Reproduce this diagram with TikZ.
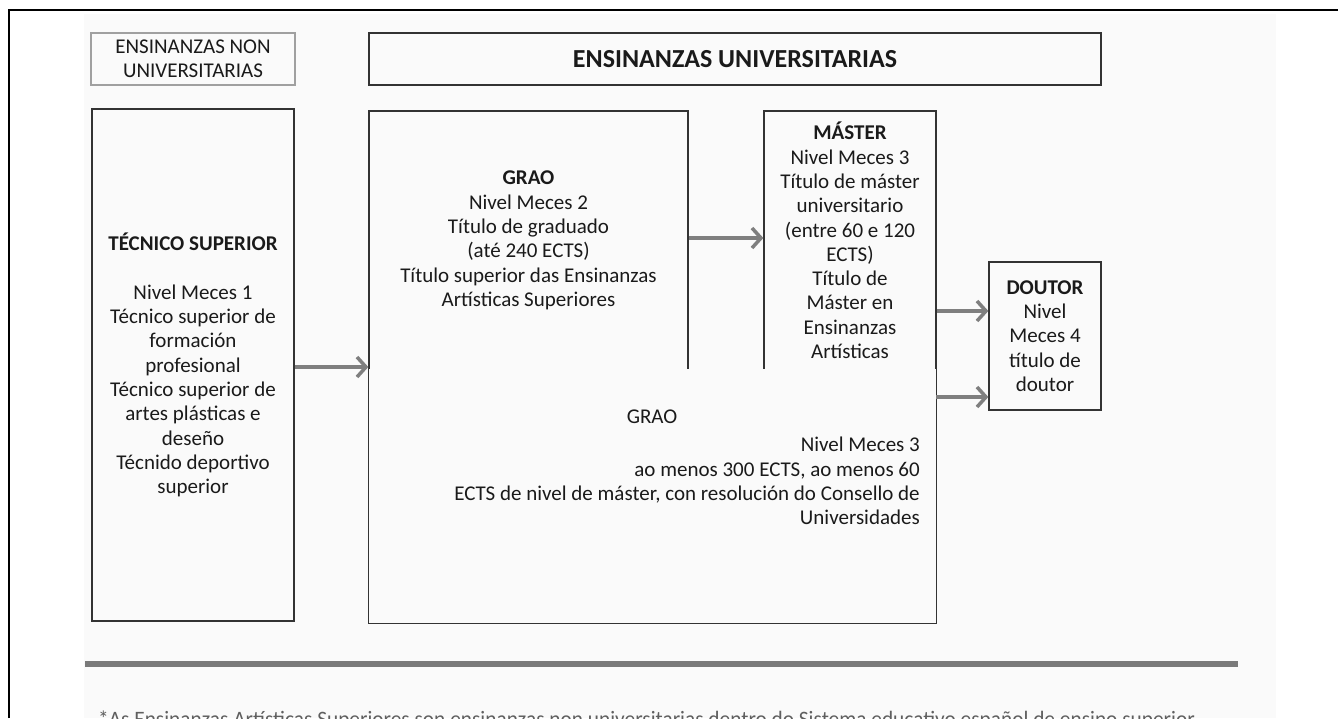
\documentclass[tikz,border=0pt]{standalone}
\usepackage{fontspec}
\setmainfont{Carlito}
\usetikzlibrary{arrows.meta}
\definecolor{bgc}{HTML}{FAFAFA}
\definecolor{edgec}{HTML}{333333}
\definecolor{arrc}{HTML}{7F7F7F}
\definecolor{txtc}{HTML}{1A1A1A}
\definecolor{notec}{HTML}{5F5F5F}
\definecolor{rulec}{HTML}{7A7A7A}
\definecolor{softedge}{HTML}{A0A0A0}
\begin{document}
\begin{tikzpicture}[x=1pt,y=-1pt,
  box/.style={draw=edgec, line width=1.3pt, fill=bgc, inner sep=0pt, text=txtc,
    align=center, font=\fontsize{21}{24.3}\selectfont},
  lbl/.style={inner sep=0pt, text=txtc, font=\fontsize{21}{24.3}\selectfont},
  conn/.style={draw=arrc, line width=3.5pt, -{Straight Barb[length=9pt,width=20pt]}}]
\useasboundingbox (0,0) rectangle (1338,718);
\clip (0,0) rectangle (1338,718);
\fill[white] (0,0) rectangle (1338,718);
\fill[bgc] (84,14) rectangle (1276,718);
\draw[black, line width=2pt] (9,718) -- (9,10) -- (1338,10);

% headers
\node[box, draw=softedge, line width=2pt, minimum width=204pt, minimum height=52pt]
  (nonuniv) at (193,59) {ENSINANZAS NON\\UNIVERSITARIAS};
\node[box, minimum width=732pt, minimum height=52pt, font=\fontsize{26}{30}\selectfont\bfseries]
  (univ) at (735,59) {ENSINANZAS UNIVERSITARIAS};

% main boxes
\node[box, minimum width=202pt, minimum height=512pt] (tec) at (193,365)
  {\textbf{TÉCNICO SUPERIOR}\\[24.3pt]Nivel Meces 1\\Técnico superior de\\formación\\profesional\\Técnico superior de\\artes plásticas e\\deseño\\Técnido deportivo\\superior};
\node[box, minimum width=319pt, minimum height=259pt] (grao) at (528.5,240.5)
  {\textbf{GRAO}\\Nivel Meces 2\\Título de graduado\\(até 240 ECTS)\\Título superior das Ensinanzas\\Artísticas Superiores};
\node[box, minimum width=172pt, minimum height=259pt] (master) at (850,240.5)
  {\textbf{MÁSTER}\\Nivel Meces 3\\Título de máster\\universitario\\(entre 60 e 120\\ECTS)\\Título de\\Máster en\\Ensinanzas\\Artísticas};
\node[fill=bgc, inner sep=0pt, minimum width=567pt, minimum height=254pt] (low) at (652.5,496) {};
\draw[edgec, line width=1.3pt] ([yshift=-1pt]low.north west) -- (low.south west) -- (low.south east) -- ([yshift=-1pt]low.north east);
\node[lbl, anchor=base] (lowtitle) at (652,423) {GRAO};
\node[lbl, anchor=east, align=right] (lowtext) at (920,481)
  {Nivel Meces 3\\ao menos 300 ECTS, ao menos 60\\ECTS de nivel de máster, con resolución do Consello de\\Universidades};

\node[box, minimum width=112pt, minimum height=148pt] (doutor) at (1045,336)
  {\textbf{DOUTOR}\\Nivel\\Meces 4\\título de\\doutor};

% connectors
\coordinate (d1) at ([yshift=25pt]doutor.west);
\coordinate (d2) at ([yshift=-61pt]doutor.west);
\draw[conn] (tec.east |- 0,367) -- (grao.west |- 0,367);
\draw[conn] (grao.east |- 0,238) -- (master.west |- 0,238);
\draw[conn] (master.east |- d1) -- (d1);
\draw[conn] (low.east |- d2) -- (d2);

% footnote
\draw[rulec, line width=6pt] (85,664) -- (1238,664);
\node[anchor=base west, inner sep=0pt, text=notec, font=\fontsize{22}{26}\selectfont] (note) at (98,726)
  {\resizebox{1100pt}{\height}{*As Ensinanzas Artísticas Superiores son ensinanzas non universitarias dentro do Sistema educativo español de ensino superior.}};
\end{tikzpicture}
\end{document}
